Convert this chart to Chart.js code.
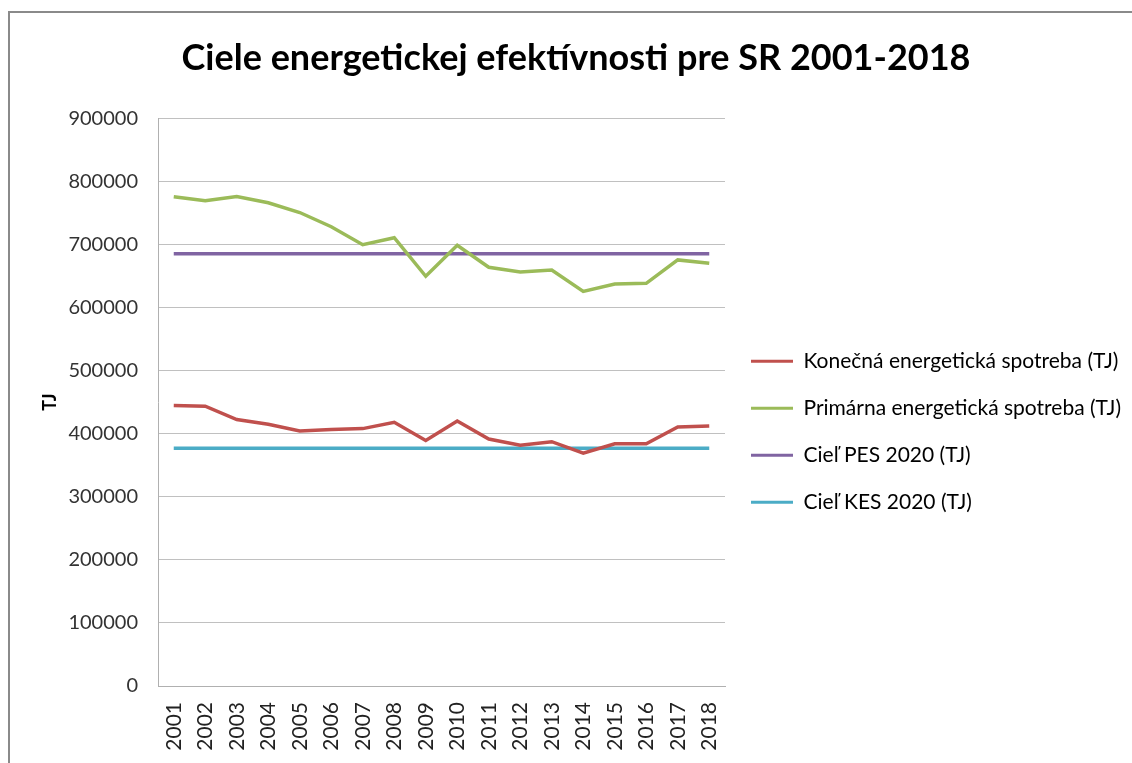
<!DOCTYPE html>
<html>
<head>
<meta charset="utf-8">
<script src="https://cdn.jsdelivr.net/npm/chart.js@4/dist/chart.umd.min.js"></script>
<style>
  html, body { margin: 0; padding: 0; background: #fff; overflow: hidden; }
  #wrap { position: relative; width: 1132px; height: 763px; }
  #frame { position: absolute; left: 8px; top: 11px; width: 1200px; height: 800px; border: 2px solid #8a8a8a; box-sizing: border-box; }
  canvas { position: absolute; left: 0; top: 0; }
</style>
</head>
<body>
<div id="wrap">
  <div id="frame"></div>
  <canvas id="graph" width="1132" height="763"></canvas>
</div>
<script>
// Ciele energetickej efektivnosti, hodnoty odcitane z grafu (TJ)
const FONT = "Lato, 'Open Sans', sans-serif";

let years = ["2001", "2002", "2003", "2004", "2005", "2006", "2007", "2008", "2009",
             "2010", "2011", "2012", "2013", "2014", "2015", "2016", "2017", "2018"];

let konecna = [444700, 443600, 422400, 414900, 404200, 406400, 408000, 418000, 389300,
               420100, 391400, 381800, 387200, 369000, 384000, 384000, 410500, 412000];

let primarna = [775600, 769000, 776000, 766000, 750500, 728000, 699500, 710500, 649500,
                698500, 663700, 656200, 659400, 625400, 637100, 638200, 675400, 670100];

let cielPES = years.map(() => 685000);
let cielKES = years.map(() => 377000);

let yTicks = [0, 100000, 200000, 300000, 400000, 500000, 600000, 700000, 800000, 900000];

function line(label, data, color) {
    return {
        label: label,
        data: data,
        borderColor: color,
        backgroundColor: color,
        borderWidth: 3.5,
        pointRadius: 0,
        tension: 0
    };
}

let ctx = document.getElementById("graph");
let chart = new Chart(ctx, {
    type: "line",
    data: {
        labels: years,
        datasets: [
            line("Konečná energetická spotreba (TJ)", konecna, "#c0504d"),
            line("Primárna energetická spotreba (TJ)", primarna, "#9bbb59"),
            line("Cieľ PES 2020 (TJ)", cielPES, "#8064a2"),
            line("Cieľ KES 2020 (TJ)", cielKES, "#4bacc6")
        ]
    },
    options: {
        responsive: false,
        animation: false,
        layout: { padding: { left: 30, top: 10, right: 10, bottom: 0 } },
        plugins: {
            title: {
                display: true,
                text: "Ciele energetickej efektívnosti pre SR 2001-2018",
                color: "#000",
                font: { family: FONT, size: 36, weight: "bold" },
                padding: { top: 27, bottom: 38 }
            },
            legend: {
                position: "right",
                align: "center",
                maxWidth: 397,
                // empty title only pushes the entries a bit lower
                title: { display: true, text: " ", font: { size: 12 }, padding: { top: 76, bottom: 0 } },
                labels: {
                    color: "#000",
                    font: { family: FONT, size: 21 },
                    boxWidth: 42,
                    boxHeight: 3,
                    padding: 26,
                    generateLabels(chart) {
                        // plain coloured strokes instead of outlined boxes
                        return Chart.defaults.plugins.legend.labels.generateLabels(chart).map(item => {
                            item.fillStyle = item.strokeStyle;
                            item.lineWidth = 0;
                            return item;
                        });
                    }
                }
            },
            tooltip: { enabled: false }
        },
        scales: {
            x: {
                offset: true,
                grid: { display: false, drawTicks: false },
                border: { display: true, color: "#b0b0b0", width: 1 },
                ticks: {
                    color: "#222",
                    font: { family: FONT, size: 21 },
                    minRotation: 90,
                    maxRotation: 90,
                    padding: 16,
                    autoSkip: false
                },
                afterFit(scale) { scale.height = 77; }
            },
            y: {
                min: 0,
                max: 900000,
                afterBuildTicks(scale) {
                    scale.ticks = yTicks.map(v => ({ value: v }));
                },
                grid: { color: "#c0c0c0", lineWidth: 1, drawTicks: false },
                border: { display: true, color: "#b0b0b0", width: 1 },
                ticks: {
                    color: "#333",
                    font: { family: FONT, size: 20 },
                    padding: 20,
                    callback: v => String(v)
                },
                title: {
                    display: true,
                    text: "TJ",
                    color: "#000",
                    font: { family: FONT, size: 18, weight: "bold" },
                    padding: { top: 9, bottom: 0 }
                },
                afterFit(scale) { scale.width = 128; }
            }
        }
    }
});
</script>
</body>
</html>
